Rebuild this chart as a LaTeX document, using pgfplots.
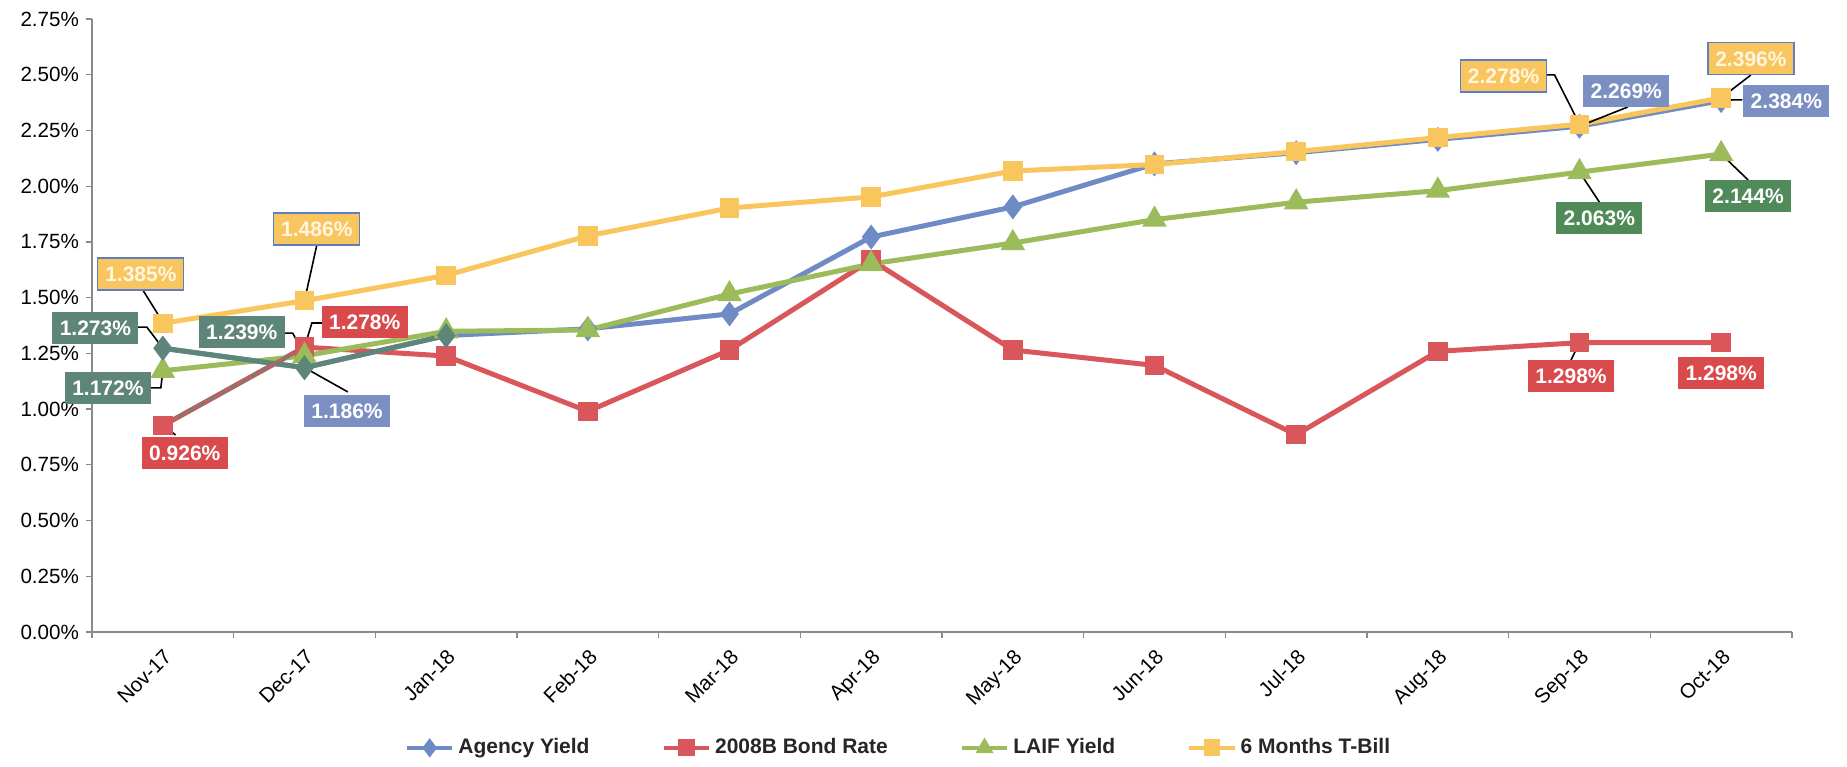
\documentclass[border=0pt]{standalone}
\usepackage{fontspec}
\setmainfont{Liberation Sans}
\usepackage{pgfplots}
\pgfplotsset{compat=1.18}

\definecolor{agency}{HTML}{6F8BC6}
\definecolor{bond}{HTML}{D9575B}
\definecolor{laif}{HTML}{9CBB5A}
\definecolor{tbill}{HTML}{F9C55D}
\definecolor{oddteal}{HTML}{5E8579}
\definecolor{boxblue}{HTML}{7B8FC3}
\definecolor{boxteal}{HTML}{5E8579}
\definecolor{boxred}{HTML}{D94A4D}
\definecolor{boxgreen}{HTML}{4F8A58}
\definecolor{boxyel}{HTML}{F9C55E}
\definecolor{boxedge}{HTML}{5B7FC2}
\definecolor{yeltext}{HTML}{FFF6E0}
\definecolor{axgray}{HTML}{8A8A8A}

\begin{document}
\begin{tikzpicture}
\begin{axis}[
    name=ax,
    scale only axis,
    width=850pt, height=306.5pt,
    xmin=-0.5, xmax=11.5, ymin=0, ymax=2.75,
    axis x line*=bottom, axis y line*=left,
    axis line style={axgray, line width=0.8pt},
    xtick={-0.5,0.5,...,11.5},
    xticklabels={Nov-17,Dec-17,Jan-18,Feb-18,Mar-18,Apr-18,May-18,Jun-18,Jul-18,Aug-18,Sep-18,Oct-18},
    x tick label as interval,
    ytick={0,0.25,0.5,0.75,1,1.25,1.5,1.75,2,2.25,2.5,2.75},
    yticklabel={\pgfmathprintnumber[fixed,fixed zerofill,precision=2,assume math mode=true]{\tick}\%},
    tick align=outside,
    major tick length=3pt,
    tick style={axgray, line width=0.6pt},
    ticklabel style={font=\fontsize{10.3}{12}\selectfont},
    xticklabel style={rotate=45, anchor=north east},
    clip=false,
    legend columns=4,
    legend style={draw=none, at={(0.475,-0.189)}, anchor=center,
        font=\fontsize{10.5}{12}\selectfont\bfseries, text=black!85,
        /tikz/every even column/.append style={column sep=34pt}},
    legend image code/.code={\draw[mark repeat=2,mark phase=2,#1,line width=2pt,mark size=3.2pt] plot coordinates {(0cm,0cm) (0.4cm,0cm) (0.8cm,0cm)};},
    every axis plot/.append style={line width=2.5pt},
]
\addplot[agency, mark=diamond*, mark size=4.2pt, mark options={solid}] coordinates {
(0,1.273) (1,1.186) (2,1.33) (3,1.36) (4,1.427) (5,1.772) (6,1.907) (7,2.10) (8,2.15) (9,2.21) (10,2.269) (11,2.384)};
\addlegendentry{Agency Yield}
\addplot[bond, mark=square*, mark size=3.6pt] coordinates {
(0,0.926) (1,1.278) (2,1.238) (3,0.99) (4,1.265) (5,1.669) (6,1.265) (7,1.196) (8,0.885) (9,1.259) (10,1.298) (11,1.298)};
\addlegendentry{2008B Bond Rate}
\addplot[laif, mark=triangle*, mark size=4.6pt] coordinates {
(0,1.172) (1,1.239) (2,1.349) (3,1.355) (4,1.516) (5,1.651) (6,1.745) (7,1.85) (8,1.928) (9,1.98) (10,2.063) (11,2.144)};
\addlegendentry{LAIF Yield}
\addplot[tbill, mark=square*, mark size=3.6pt] coordinates {
(0,1.385) (1,1.486) (2,1.60) (3,1.777) (4,1.902) (5,1.952) (6,2.068) (7,2.097) (8,2.155) (9,2.218) (10,2.278) (11,2.396)};
\addlegendentry{6 Months T-Bill}
% discoloured segments near the start of the scan
\addplot[oddteal, line width=2.5pt, mark=diamond*, mark size=4.2pt, forget plot] coordinates {(0,1.273) (1,1.186) (2,1.33)};
\addplot[oddteal!70!bond, line width=2pt, forget plot] coordinates {(0,0.926) (1,1.278)};
\addplot[bond, line width=1pt, dashed, forget plot] coordinates {(0,0.926) (1,1.278)};

% leader lines
\begin{scope}[black, line width=0.8pt]
\draw (-0.141,1.534) -- (0,1.39);
\draw (1.087,1.736) -- (1,1.486);
\draw (-0.176,1.368) -- (-0.113,1.368) -- (0,1.273);
\draw (-0.085,1.095) -- (-0.014,1.095) -- (0,1.172);
\draw (0.854,1.341) -- (0.917,1.341) -- (1,1.239);
\draw (1.129,1.386) -- (1.052,1.386) -- (1,1.278);
\draw (1,1.186) -- (1.306,1.077);
\draw (0.09,0.884) -- (0,0.926);
\draw (9.767,2.499) -- (9.824,2.499) -- (10,2.278);
\draw (10.34,2.355) -- (10,2.269);
\draw (11.21,2.499) -- (11,2.396);
\draw (11.15,2.387) -- (11.08,2.387) -- (11,2.384);
\draw (10.14,1.929) -- (10,2.063);
\draw (11.19,2.028) -- (11,2.144);
\draw (9.94,1.22) -- (10,1.298);
\end{scope}

% data labels
\tikzset{lbl/.style={minimum width=43pt, minimum height=16pt, inner sep=0pt,
    font=\fontsize{10.5}{12}\selectfont\bfseries, text=white}}
\node[lbl, fill=boxyel, draw=boxedge, line width=0.6pt, text=yeltext] at (-0.155,1.606) {1.385\%};
\node[lbl, fill=boxyel, draw=boxedge, line width=0.6pt, text=yeltext] at (1.087,1.808) {1.486\%};
\node[lbl, fill=boxteal] at (-0.476,1.364) {1.273\%};
\node[lbl, fill=boxteal] at (-0.388,1.095) {1.172\%};
\node[lbl, fill=boxteal] at (0.557,1.346) {1.239\%};
\node[lbl, fill=boxred] at (1.425,1.391) {1.278\%};
\node[lbl, fill=boxblue] at (1.30,0.99) {1.186\%};
\node[lbl, fill=boxred] at (0.155,0.803) {0.926\%};
\node[lbl, fill=boxyel, draw=boxedge, line width=0.6pt, text=yeltext] at (9.464,2.494) {2.278\%};
\node[lbl, fill=boxblue] at (10.33,2.427) {2.269\%};
\node[lbl, fill=boxyel, draw=boxedge, line width=0.6pt, text=yeltext] at (11.21,2.571) {2.396\%};
\node[lbl, fill=boxblue] at (11.46,2.382) {2.384\%};
\node[lbl, fill=boxgreen] at (10.14,1.857) {2.063\%};
\node[lbl, fill=boxgreen] at (11.19,1.956) {2.144\%};
\node[lbl, fill=boxred] at (9.94,1.148) {1.298\%};
\node[lbl, fill=boxred] at (11.0,1.162) {1.298\%};
\end{axis}
\pgfresetboundingbox
\path ([shift={(-46pt,-67pt)}]ax.south west) rectangle ++(923.5pt,383pt);
\end{tikzpicture}
\end{document}
